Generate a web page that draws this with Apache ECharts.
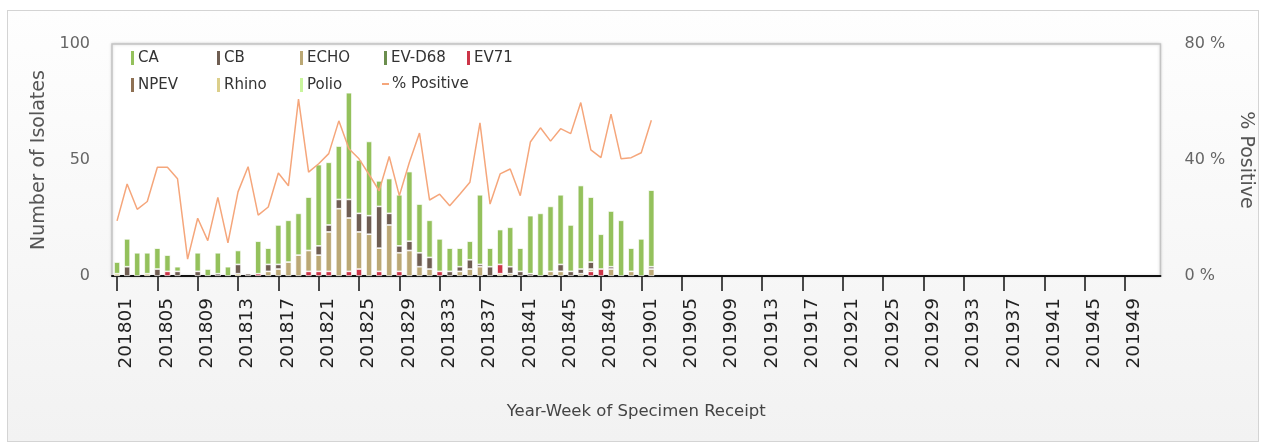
<!DOCTYPE html>
<html>
<head>
<meta charset="utf-8">
<script src="https://cdn.jsdelivr.net/npm/echarts@6/dist/echarts.min.js"></script>
<style>
html,body{margin:0;padding:0;background:#fff;}
#frame{position:absolute;left:7px;top:10px;width:1250px;height:430px;border:1px solid #d4d4d4;background:linear-gradient(#fefefe,#f2f2f2);}
#chart{position:absolute;left:0;top:0;width:1263px;height:446px;}
</style>
</head>
<body>
<div id="frame"></div>
<div id="chart"></div>
<script>
// categories: year-week
const years = [2018, 2019];
const weeksPerYear = 52;
const categories = [];
years.forEach(y => { for (let w = 1; w <= weeksPerYear; w++) categories.push(String(y) + (w < 10 ? '0' + w : String(w))); });

// series values (weeks 201801 .. 201902)
const CA     = [5,12,10,9,9,7,2,0,8,3,9,4,6,0,14,7,17,18,18,23,35,27,23,46,23,32,11,15,22,30,21,16,14,10,8,8,30,8,15,17,10,25,27,28,30,20,36,28,15,24,24,10,16,33];
const CB     = [0,4,0,0,3,0,2,0,2,0,1,0,4,1,0,3,2,0,0,0,4,3,4,8,8,8,18,5,3,4,6,5,0,2,2,4,1,4,0,3,2,1,0,0,3,2,2,3,0,1,0,0,0,1];
const ECHO   = [0,0,0,0,0,0,0,0,0,0,0,0,0,0,0,2,3,6,9,9,7,17,29,23,16,18,10,22,8,11,4,3,0,0,2,3,4,0,0,1,0,0,0,2,2,0,1,1,0,3,0,2,0,3];
const EVD68  = [0,0,0,0,0,0,0,0,0,0,0,0,0,0,0,0,0,0,0,0,0,0,0,0,0,0,0,0,0,0,0,0,0,0,0,0,0,0,0,0,0,0,0,0,0,0,0,0,0,0,0,0,0,0];
const EV71   = [0,0,0,0,0,2,0,0,0,0,0,0,0,0,1,0,0,0,0,2,2,2,0,2,3,0,2,0,2,0,0,0,2,0,0,0,0,0,4,0,0,0,0,0,0,0,0,2,3,0,0,0,0,0];
const NPEV   = [0,0,0,0,0,0,0,0,0,0,0,0,0,0,0,0,0,0,0,0,0,0,0,0,0,0,0,0,0,0,0,0,0,0,0,0,0,0,0,0,0,0,0,0,0,0,0,0,0,0,0,0,0,0];
const Rhino  = [1,0,0,1,0,0,0,0,0,0,0,0,1,0,0,0,0,0,0,0,0,0,0,0,0,0,0,0,0,0,0,0,0,0,0,0,0,0,1,0,0,0,0,0,0,0,0,0,0,0,0,0,0,0];
const Polio  = [0,0,0,0,0,0,0,0,0,0,0,0,0,0,0,0,0,0,0,0,0,0,0,0,0,0,0,0,0,0,0,0,0,0,0,0,0,0,0,0,0,0,0,0,0,0,0,0,0,0,0,0,0,0];
const pctPositive = [19.0,31.7,23.0,25.7,37.5,37.5,33.5,5.8,19.9,12.2,27.1,11.4,29.0,37.7,21.0,23.8,35.5,31.1,61.0,35.8,38.7,42.2,53.5,43.9,40.4,35.0,29.4,41.2,27.7,39.2,49.3,26.2,28.2,24.2,28.2,32.3,52.8,24.8,35.2,36.9,27.7,46.2,51.1,46.5,50.8,49.1,59.8,43.5,40.8,55.8,40.4,40.8,42.5,53.7];

const leftTicks = [0, 50, 100];
const rightTicks = [0, 40, 80];

const colors = {
  'CA':'#94c15c','CB':'#6f5e52','ECHO':'#bba875','EV-D68':'#6b8e4e','EV71':'#cc3548',
  'NPEV':'#8e7053','Rhino':'#dccf8b','Polio':'#c9f59d','% Positive':'#f5a67b'
};

// stacking order bottom -> top
const stackSeries = [
  ['Polio', Polio], ['Rhino', Rhino], ['NPEV', NPEV], ['EV71', EV71],
  ['EV-D68', EVD68], ['ECHO', ECHO], ['CB', CB], ['CA', CA]
];

const series = stackSeries.map(([name, data]) => ({
  name, type:'bar', stack:'iso', data: data.map(v => v === 0 ? '-' : v), barWidth:6,
  itemStyle:{color:colors[name], borderColor:'#ffffff', borderWidth:0.7},
  emphasis:{disabled:true}
}));
series.push({
  name:'% Positive', type:'line', yAxisIndex:1, data:pctPositive,
  showSymbol:false, symbol:'none',
  lineStyle:{color:colors['% Positive'], width:1.5},
  itemStyle:{color:colors['% Positive']}, z:5
});

const legendRows = [
  ['CA','CB','ECHO','EV-D68','EV71'],
  ['NPEV','Rhino','Polio','% Positive']
];
const legendLeft = [129, 215, 298, 382, 465];
const legendTop = [49, 76];
const legends = [];
legendRows.forEach((row, r) => row.forEach((name, c) => {
  const isLine = name === '% Positive';
  legends.push({
    data:[{name, icon:'rect'}],
    left: legendLeft[c], top: legendTop[r],
    itemWidth: isLine ? 7 : 5, itemHeight: isLine ? 2 : 16,
    itemGap: 0, padding: 0, selectedMode:false,
    textStyle:{fontFamily:'DejaVu Sans', fontSize:15, color:'#333', padding:[0,0,0,-2], lineHeight:16}
  });
}));

const chart = echarts.init(document.getElementById('chart'), null, {renderer:'canvas'});
chart.setOption({
  backgroundColor:'transparent',
  animation:false,
  color: stackSeries.map(s => colors[s[0]]),
  legend: legends,
  grid:{left:112, right:100, top:44, bottom:170, show:true, backgroundColor:'#ffffff',
        borderColor:'#c4c4c4', borderWidth:1.5, shadowColor:'rgba(0,0,0,0.18)', shadowBlur:3},
  xAxis:{
    type:'category', data:categories, boundaryGap:true,
    axisLine:{show:true, lineStyle:{color:'#111', width:2}},
    axisTick:{show:true, interval:3, alignWithLabel:true, length:15, lineStyle:{color:'#111', width:1.5}},
    axisLabel:{interval:3, rotate:90, margin:22, verticalAlign:'top', fontFamily:'DejaVu Sans', fontSize:18.5, color:'#222'},
    name:'Year-Week of Specimen Receipt', nameLocation:'middle', nameGap:127,
    nameTextStyle:{fontFamily:'DejaVu Sans', fontSize:16.5, color:'#444'}
  },
  yAxis:[{
    type:'value', min:leftTicks[0], max:leftTicks[2], interval:leftTicks[1]-leftTicks[0],
    axisLine:{show:false}, axisTick:{show:false}, splitLine:{show:false},
    axisLabel:{margin:22, fontFamily:'DejaVu Sans', fontSize:16, color:'#666'},
    name:'Number of Isolates', nameLocation:'middle', nameGap:59, nameRotate:90,
    nameTextStyle:{fontFamily:'DejaVu Sans', fontSize:19, color:'#555'}
  },{
    type:'value', min:rightTicks[0], max:rightTicks[2], interval:rightTicks[1]-rightTicks[0], position:'right',
    axisLine:{show:false}, axisTick:{show:false}, splitLine:{show:false},
    axisLabel:{margin:24, formatter:'{value} %', fontFamily:'DejaVu Sans', fontSize:16, color:'#666'},
    name:'% Positive', nameLocation:'middle', nameGap:56, nameRotate:-90,
    nameTextStyle:{fontFamily:'DejaVu Sans', fontSize:19, color:'#555'}
  }],
  series
});
</script>
</body>
</html>
